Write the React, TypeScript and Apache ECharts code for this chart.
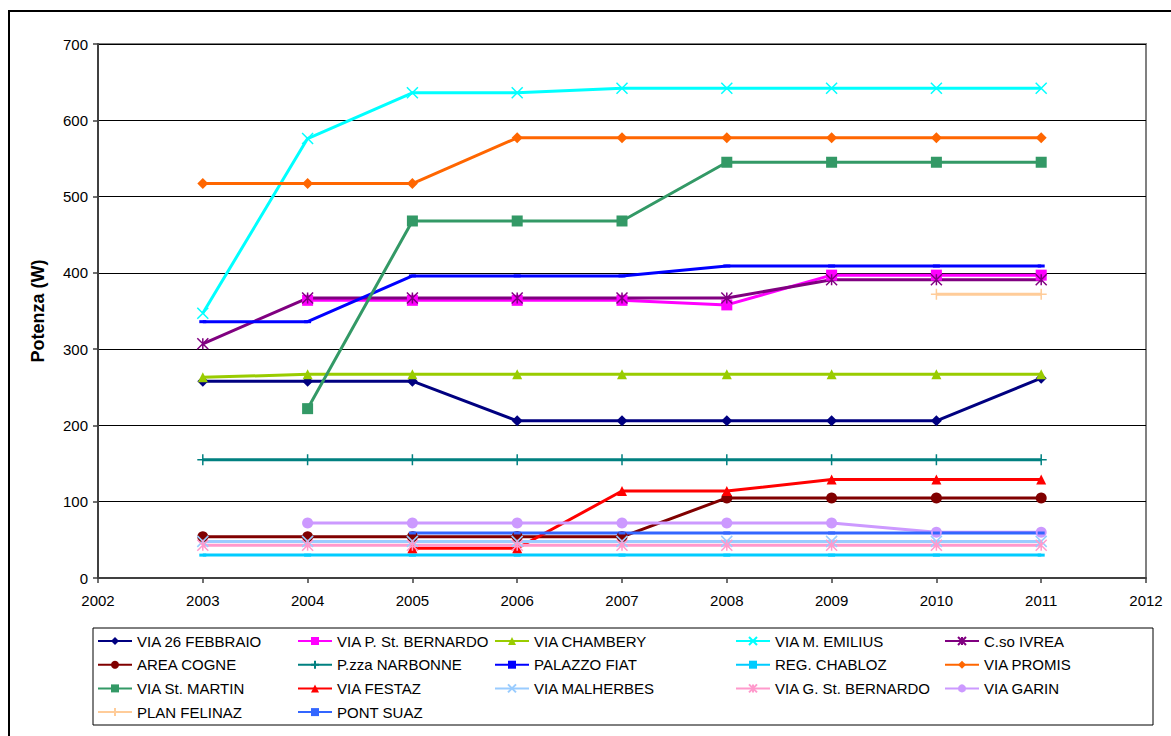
import React, { useEffect, useRef } from "react";
import * as echarts from "echarts";

const years = [2003, 2004, 2005, 2006, 2007, 2008, 2009, 2010, 2011];
const xTicks = { min: 2002, max: 2012, interval: 1 };
const yTicks = { min: 0, max: 700, interval: 100 };
const yAxisTitle = "Potenza (W)";

const via26Febbraio = [258, 258, 258, 206, 206, 206, 206, 206, 262];
const viaPStBernardo = [null, 364, 364, 364, 364, 358, 397, 397, 397];
const viaChambery = [263, 267, 267, 267, 267, 267, 267, 267, 267];
const viaMEmilius = [347, 576, 636, 636, 642, 642, 642, 642, 642];
const csoIvrea = [307, 367, 367, 367, 367, 367, 391, 391, 391];
const areaCogne = [54, 54, 54, 54, 54, 105, 105, 105, 105];
const pzzaNarbonne = [155, 155, 155, 155, 155, 155, 155, 155, 155];
const palazzoFiat = [336, 336, 396, 396, 396, 409, 409, 409, 409];
const regChabloz = [30, 30, 30, 30, 30, 30, 30, 30, 30];
const viaPromis = [517, 517, 517, 577, 577, 577, 577, 577, 577];
const viaStMartin = [null, 222, 468, 468, 468, 545, 545, 545, 545];
const viaFestaz = [null, null, 39, 39, 114, 114, 129, 129, 129];
const viaMalherbes = [48, 48, 48, 48, 48, 48, 48, 48, 48];
const viaGStBernardo = [43, 43, 43, 43, 43, 43, 43, 43, 43];
const viaGarin = [null, 72, 72, 72, 72, 72, 72, 60, 60];
const planFelinaz = [null, null, null, null, null, null, null, 372, 372];
const pontSuaz = [null, null, 59, 59, 59, 59, 59, 59, 59];

const X_SYM = "path://M0,0L10,10M10,0L0,10";
const AST_SYM = "path://M0,0L10,10M10,0L0,10M5,0L5,10";
const PLUS_SYM = "path://M0,5L10,5M5,0L5,10";

type Def = { name: string; data: (number | null)[]; color: string; symbol: string; size: any; stroke?: boolean };

const defs: Def[] = [
  { name: "VIA 26 FEBBRAIO", data: via26Febbraio, color: "#000080", symbol: "diamond", size: 11 },
  { name: "VIA P. St. BERNARDO", data: viaPStBernardo, color: "#FF00FF", symbol: "rect", size: 11 },
  { name: "VIA CHAMBERY", data: viaChambery, color: "#99CC00", symbol: "triangle", size: 10 },
  { name: "VIA M. EMILIUS", data: viaMEmilius, color: "#00FFFF", symbol: X_SYM, size: 11, stroke: true },
  { name: "C.so IVREA", data: csoIvrea, color: "#800080", symbol: AST_SYM, size: 11, stroke: true },
  { name: "AREA COGNE", data: areaCogne, color: "#800000", symbol: "circle", size: 11 },
  { name: "P.zza NARBONNE", data: pzzaNarbonne, color: "#008080", symbol: PLUS_SYM, size: 11, stroke: true },
  { name: "PALAZZO FIAT", data: palazzoFiat, color: "#0000FF", symbol: "rect", size: [7, 3] },
  { name: "REG. CHABLOZ", data: regChabloz, color: "#00CCFF", symbol: "rect", size: [7, 3] },
  { name: "VIA PROMIS", data: viaPromis, color: "#FF6600", symbol: "diamond", size: 11 },
  { name: "VIA St. MARTIN", data: viaStMartin, color: "#339966", symbol: "rect", size: 11 },
  { name: "VIA FESTAZ", data: viaFestaz, color: "#FF0000", symbol: "triangle", size: 10 },
  { name: "VIA MALHERBES", data: viaMalherbes, color: "#99CCFF", symbol: X_SYM, size: 11, stroke: true },
  { name: "VIA G. St. BERNARDO", data: viaGStBernardo, color: "#FF99CC", symbol: AST_SYM, size: 11, stroke: true },
  { name: "VIA GARIN", data: viaGarin, color: "#CC99FF", symbol: "circle", size: 11 },
  { name: "PLAN FELINAZ", data: planFelinaz, color: "#FFCC99", symbol: PLUS_SYM, size: 11, stroke: true },
  { name: "PONT SUAZ", data: pontSuaz, color: "#3366FF", symbol: "rect", size: [7, 3] },
];

const FONT = "'Liberation Sans', Arial, sans-serif";

export default function App() {
  const ref = useRef<HTMLDivElement>(null);
  useEffect(() => {
    if (!ref.current) return;
    const chart = echarts.init(ref.current, null, { renderer: "svg" });

    const series = defs.map((d) => ({
      name: d.name,
      type: "line",
      data: years
        .map((y, i) => [y, d.data[i]])
        .filter((p) => p[1] !== null && p[1] !== undefined),
      symbol: d.symbol,
      symbolSize: d.size,
      showAllSymbol: true,
      lineStyle: { color: d.color, width: 3 },
      itemStyle: d.stroke
        ? { color: d.color, borderColor: d.color, borderWidth: 1.5 }
        : { color: d.color, borderWidth: 0 },
      emphasis: { disabled: true },
    }));

    const colX = [97, 297, 494, 735, 944];
    const legends = colX.map((x, c) => ({
      orient: "vertical",
      left: x,
      top: 633,
      itemWidth: 34,
      itemHeight: 10,
      itemGap: 7.7,
      padding: 0,
      selectedMode: false,
      textStyle: { fontFamily: FONT, fontSize: 15, color: "#000", lineHeight: 16 },
      data: defs.filter((_, i) => i % 5 === c).map((d) => d.name),
    }));

    chart.setOption({
      animation: false,
      backgroundColor: "#fff",
      grid: { left: 98, right: 25, top: 44, bottom: 158, containLabel: false },
      xAxis: {
        type: "value",
        min: xTicks.min,
        max: xTicks.max,
        interval: xTicks.interval,
        axisLine: { show: true, lineStyle: { color: "#404040", width: 2 } },
        axisTick: { show: true, length: 5, lineStyle: { color: "#404040", width: 1.5 } },
        axisLabel: {
          fontFamily: FONT,
          fontSize: 15,
          color: "#000",
          margin: 15,
          formatter: (v: number) => String(v),
        },
        splitLine: { show: false },
      },
      yAxis: {
        type: "value",
        min: yTicks.min,
        max: yTicks.max,
        interval: yTicks.interval,
        name: yAxisTitle,
        nameLocation: "middle",
        nameGap: 51,
        nameRotate: 90,
        nameTextStyle: { fontFamily: FONT, fontSize: 18, fontWeight: "bold", color: "#000" },
        axisLine: { show: true, lineStyle: { color: "#404040", width: 2 } },
        axisTick: { show: true, length: 5, lineStyle: { color: "#404040", width: 1.5 } },
        axisLabel: { fontFamily: FONT, fontSize: 15, color: "#000", margin: 10 },
        splitLine: { show: true, lineStyle: { color: "#000", width: 1 } },
      },
      legend: legends,
      graphic: [
        {
          type: "polyline",
          shape: { points: [[9, 760], [9, 11], [1190, 11]] },
          style: { fill: "none", stroke: "#000", lineWidth: 2 },
          silent: true,
          z: 0,
        },
        {
          type: "polyline",
          shape: { points: [[98, 44], [1146, 44], [1146, 578]] },
          style: { fill: "none", stroke: "#808080", lineWidth: 2 },
          silent: true,
        },
        {
          type: "rect",
          shape: { x: 93, y: 628, width: 1060, height: 97 },
          style: { fill: "none", stroke: "#000", lineWidth: 1 },
          silent: true,
        },
      ],
      series,
    });
    return () => chart.dispose();
  }, []);
  return (
    <div
      ref={ref}
      style={{ position: "fixed", left: 0, top: 0, width: 1171, height: 736 }}
    />
  );
}
